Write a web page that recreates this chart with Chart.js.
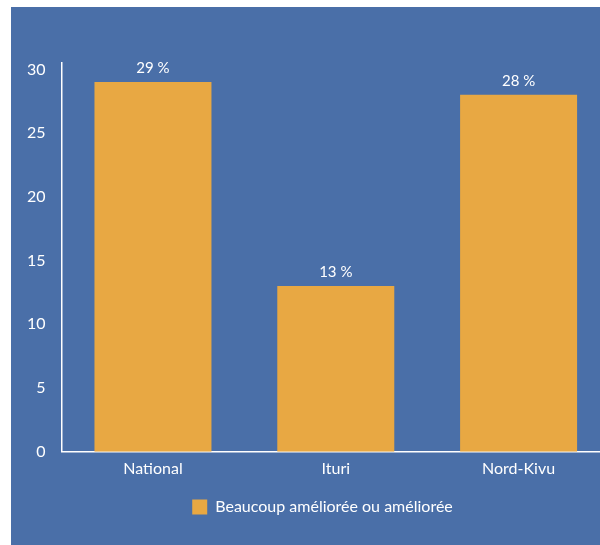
<!DOCTYPE html>
<html>
<head>
<meta charset="utf-8">
<script src="https://cdn.jsdelivr.net/npm/chart.js@4/dist/chart.umd.min.js"></script>
<style>
  html, body { margin: 0; padding: 0; background: #fff; overflow: hidden; width: 600px; height: 545px; }
  #wrap { position: absolute; left: 11px; top: 7px; width: 614px; height: 538px; background: #4a6fa8; }
</style>
</head>
<body>
<div id="wrap"><canvas id="chart"></canvas></div>
<script>
  // données
  const categories = ["National", "Ituri", "Nord-Kivu"];
  const seriesLabel = "Beaucoup améliorée ou améliorée";
  const values = [29, 13, 28];
  const yTicks = [0, 5, 10, 15, 20, 25, 30];

  const WHITE = "#ffffff";
  const ORANGE = "#e8a843";
  const FONT = "Lato, 'Open Sans', sans-serif";

  // étiquettes "29 %" au-dessus des barres
  const valueLabels = {
    id: "valueLabels",
    afterDatasetsDraw(chart) {
      const ctx = chart.ctx;
      const meta = chart.getDatasetMeta(0);
      ctx.save();
      ctx.fillStyle = WHITE;
      ctx.font = "15px " + FONT;
      ctx.textAlign = "center";
      ctx.textBaseline = "bottom";
      meta.data.forEach((bar, i) => {
        ctx.fillText(values[i] + " %", bar.x, bar.y - 6);
      });
      ctx.restore();
    }
  };

  // la légende est décalée un peu vers la droite dans l'original
  const legendShift = {
    id: "legendShift",
    afterLayout(chart) {
      if (!chart.legend) return;
      chart.legend.left += 12;
      chart.legend.right += 12;
    }
  };

  new Chart(document.getElementById("chart").getContext("2d"), {
    type: "bar",
    data: {
      labels: categories,
      datasets: [
        {
          label: seriesLabel,
          data: values,
          backgroundColor: ORANGE,
          borderWidth: 0,
          barPercentage: 0.64,
          categoryPercentage: 1,
        },
      ],
    },
    options: {
      responsive: true,
      maintainAspectRatio: false,
      animation: false,
      layout: { padding: { left: 0, top: 56, right: 15, bottom: 20 } },
      plugins: {
        legend: {
          position: "bottom",
          labels: {
            color: WHITE,
            font: { family: FONT, size: 16 },
            boxWidth: 15,
            boxHeight: 15,
            padding: 14,
          },
        },
        tooltip: { enabled: false },
      },
      scales: {
        x: {
          grid: { display: false, drawTicks: false },
          border: { color: WHITE, width: 1.5 },
          ticks: { color: WHITE, font: { family: FONT, size: 16 }, padding: 7 },
        },
        y: {
          min: 0,
          max: 30.5,
          afterBuildTicks: (scale) => { scale.ticks = yTicks.map((v) => ({ value: v })); },
          grid: { display: false, drawTicks: false },
          border: { color: WHITE, width: 1.5 },
          ticks: { color: WHITE, font: { family: FONT, size: 16 }, padding: 16 },
        },
      },
    },
    plugins: [valueLabels, legendShift],
  });
</script>
</body>
</html>
